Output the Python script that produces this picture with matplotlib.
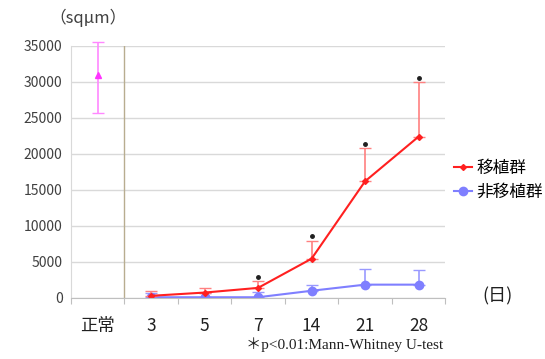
import matplotlib.pyplot as plt

plt.rcParams['font.family'] = ['Noto Sans CJK JP', 'DejaVu Sans']

categories = ['正常', '3', '5', '7', '14', '21', '28']
normal_mean = 31000
normal_err_up = 4500
normal_err_down = 5300

days_idx = [1, 2, 3, 4, 5, 6]
graft_mean = [300, 750, 1400, 5450, 16200, 22400]
graft_err = [700, 700, 900, 2500, 4600, 7600]
nongraft_mean = [100, 100, 100, 1000, 1850, 1850]
nongraft_err = [600, 600, 700, 800, 2200, 2100]
signif = [False, False, True, True, True, True]

fig = plt.figure(figsize=(5.45, 3.59), dpi=100)
ax = fig.add_axes([0.130, 0.170, 0.687, 0.702])

ax.set_xlim(-0.5, 6.5)
ax.set_ylim(0, 35000)
ax.set_yticks(range(0, 35001, 5000))
ax.yaxis.grid(True, color='#d9d9d9', lw=1)
ax.set_axisbelow(True)

for s in ['top', 'right']:
    ax.spines[s].set_visible(False)
ax.spines['left'].set_color('#d9d9d9')
ax.spines['bottom'].set_color('#bfbfbf')
ax.tick_params(axis='y', length=0, labelsize=10, labelcolor='#404040', pad=6)
ax.set_xticks([i + 0.5 for i in range(-1, 7)], minor=False)
ax.set_xticklabels([])
ax.tick_params(axis='x', which='major', length=4, color='#bfbfbf')
ax.set_xticks(range(7), minor=True)
ax.set_xticklabels(categories, minor=True, fontsize=12.5)
ax.tick_params(axis='x', which='minor', length=0, pad=14, labelcolor='#202020')

# separator between normal and time course
ax.axvline(0.5, color='#b8ad90', lw=1)

# normal value
eb = ax.errorbar([0], [normal_mean], yerr=[[normal_err_down], [normal_err_up]],
                 fmt='^', color='#ff33ff', ms=4, ecolor='#ff88ff',
                 elinewidth=1.2, capsize=4)
for art in eb.get_children():
    art.set_clip_on(False)

# non-transplant
ax.errorbar(days_idx, nongraft_mean, yerr=[[0] * 6, nongraft_err],
            fmt='none', ecolor='#9999ff', elinewidth=1.2, capsize=4)
ax.plot(days_idx, nongraft_mean, color='#7f7fff', lw=1.5, marker='o',
        ms=6, label='非移植群')

# transplant
ax.errorbar(days_idx, graft_mean, yerr=[[0] * 6, graft_err],
            fmt='none', ecolor='#ff8080', elinewidth=1.2, capsize=4)
ax.plot(days_idx, graft_mean, color='#ff2020', lw=1.5, marker='D',
        ms=3, label='移植群')

for x, m, e, sg in zip(days_idx, graft_mean, graft_err, signif):
    if sg:
        ax.plot(x, m + e + 600, marker='o', color='#202020', ms=2.5)

handles, labels = ax.get_legend_handles_labels()
fig.legend(handles[::-1], labels[::-1], loc='upper left',
           bbox_to_anchor=(0.833, 0.555), frameon=False, fontsize=12,
           handlelength=1.1, handletextpad=0.25, labelspacing=0.45,
           borderaxespad=0, borderpad=0)

fig.text(0.09, 0.935, '（sqμm）', fontsize=12, color='#404040')
fig.text(0.885, 0.175, '(日)', fontsize=13, color='#202020', va='center')
fig.text(0.813, 0.028, '＊p<0.01:Mann-Whitney U-test', fontsize=11,
         family=['Liberation Serif', 'Noto Sans CJK JP'], ha='right',
         color='#202020')

fig.savefig('out.png', dpi=100)
